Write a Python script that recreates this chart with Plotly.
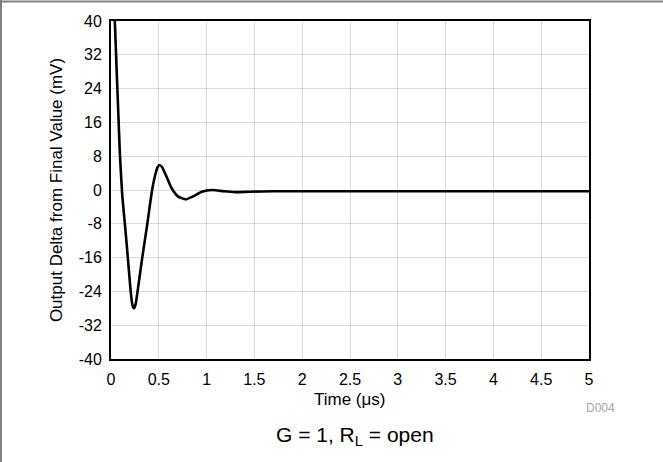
import plotly.graph_objects as go

# Data (time in µs, output delta in mV)
time_us = [0.0, 0.04, 0.092, 0.117, 0.145, 0.176, 0.204, 0.222, 0.24, 0.258, 0.281,
           0.327, 0.38, 0.43, 0.47, 0.49, 0.51, 0.535, 0.58, 0.63, 0.70, 0.78, 0.86,
           0.95, 1.06, 1.18, 1.30, 1.45, 1.70, 2.0, 2.5, 3.0, 3.5, 4.0, 4.5, 5.0]
delta_mv = [62, 40, 9, -1, -8, -16, -23.5, -27, -28, -27, -23.5,
            -16, -8, 0, 4.2, 5.5, 5.9, 5.4, 3.2, 0.6, -1.5, -2.2, -1.5,
            -0.4, 0, -0.3, -0.5, -0.4, -0.3, -0.3, -0.3, -0.3, -0.3, -0.3, -0.3, -0.3]

x_ticks = [0, 0.5, 1, 1.5, 2, 2.5, 3, 3.5, 4, 4.5, 5]
x_tick_labels = ["0", "0.5", "1", "1.5", "2", "2.5", "3", "3.5", "4", "4.5", "5"]
y_ticks = [40, 32, 24, 16, 8, 0, -8, -16, -24, -32, -40]
y_tick_labels = ["40", "32", "24", "16", "8", "0", "-8", "-16", "-24", "-32", "-40"]

W, H = 663, 462
L, R, T, B = 111, 74, 21, 103
PW, PH = W - L - R, H - T - B

def px_x(px):
    return (px - L) / PW

def px_y(py):
    return (H - B - py) / PH

FONT = "Liberation Sans, Arial, sans-serif"

fig = go.Figure()
fig.add_trace(go.Scatter(
    x=time_us, y=delta_mv, mode="lines",
    line=dict(color="black", width=2.6, shape="spline", smoothing=0.5),
    showlegend=False, hoverinfo="skip",
))

axis_common = dict(
    showline=True, linecolor="black", linewidth=2, mirror=True,
    showgrid=True, gridcolor="#d9d9d9", gridwidth=1,
    zeroline=False, ticks="",
    tickfont=dict(family=FONT, size=16, color="black"),
)

fig.update_xaxes(range=[0, 5], tickvals=x_ticks, ticktext=x_tick_labels,
                 ticklabelstandoff=5, **axis_common)
fig.update_yaxes(range=[-40, 40], tickvals=y_ticks, ticktext=y_tick_labels,
                 ticklabelstandoff=4,
                 title=dict(text="Output Delta from Final Value (mV)",
                            font=dict(family=FONT, size=17, color="black"),
                            standoff=12),
                 **axis_common)

fig.add_annotation(text="Time (μs)", xref="paper", yref="paper",
                   x=0.5, y=px_y(399), showarrow=False,
                   font=dict(family=FONT, size=17, color="black"),
                   xanchor="center", yanchor="middle")
fig.add_annotation(text="D004", xref="paper", yref="paper",
                   x=px_x(600), y=px_y(408), showarrow=False,
                   font=dict(family=FONT, size=12, color="#a6a6a6"),
                   xanchor="center", yanchor="middle")
fig.add_annotation(text="G = 1, R<sub>L</sub> = open", xref="paper", yref="paper",
                   x=px_x(355), y=px_y(436), showarrow=False,
                   font=dict(family=FONT, size=21, color="black"),
                   xanchor="center", yanchor="middle")

# outer gray frame (top and left edges)
fig.add_shape(type="line", xref="paper", yref="paper",
              x0=px_x(0), x1=px_x(W), y0=px_y(1.5), y1=px_y(1.5),
              line=dict(color="#808080", width=2))
fig.add_shape(type="line", xref="paper", yref="paper",
              x0=px_x(1), x1=px_x(1), y0=px_y(0), y1=px_y(H),
              line=dict(color="#808080", width=2))

fig.update_layout(
    width=W, height=H,
    margin=dict(l=L, r=R, t=T, b=B, pad=0),
    plot_bgcolor="white", paper_bgcolor="white",
    font=dict(family=FONT, color="black"),
)

fig.write_html("out.html", config={"displayModeBar": False},
               post_script="document.body.style.margin='0';document.body.style.overflow='hidden';")
